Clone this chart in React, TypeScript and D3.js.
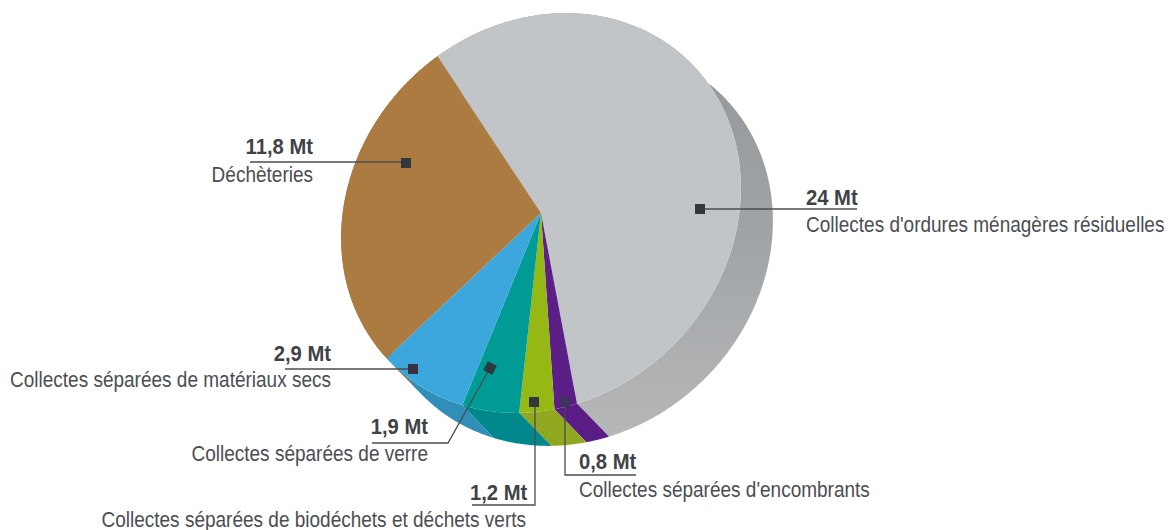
import React from "react";
import * as d3 from "d3";

const W = 1171;
const H = 530;

const categories = [
  "Collectes d'ordures ménagères résiduelles",
  "Collectes séparées d'encombrants",
  "Collectes séparées de biodéchets et déchets verts",
  "Collectes séparées de verre",
  "Collectes séparées de matériaux secs",
  "Déchèteries",
];
const values = [24, 0.8, 1.2, 1.9, 2.9, 11.8];
const valueLabels = ["24 Mt", "0,8 Mt", "1,2 Mt", "1,9 Mt", "2,9 Mt", "11,8 Mt"];
const topColors = ["#c2c5c7", "#5c1f88", "#96b814", "#009b94", "#3ba7dc", "#ab7b42"];
const sideColors = ["url(#sideGray)", "#5a1d86", "#8fa81f", "#00898c", "#2f8fb8", "#a87840"];

const cx = 541;
const cy = 213;
const semiMajor = 212; // along the NE-SW diagonal
const semiMinor = 187; // along the NW-SE diagonal
const shiftX = 32;
const shiftY = 33;
const start = (-33.5 * Math.PI) / 180;

const pie = d3.pie<number>().sort(null).startAngle(start).endAngle(start + 2 * Math.PI);
const arcs = pie(values);

// Polar radius of the tilted disc, angle measured clockwise from 12 o'clock
function discRadius(a: number) {
  const rel = a - Math.PI / 4;
  return 1 / Math.sqrt((Math.cos(rel) / semiMajor) ** 2 + (Math.sin(rel) / semiMinor) ** 2);
}
function angles(a0: number, a1: number) {
  const n = Math.max(2, Math.ceil((a1 - a0) / 0.01));
  return d3.range(n + 1).map((i) => a0 + ((a1 - a0) * i) / n);
}
const rimPoint = (a: number): [number, number] => {
  const r = discRadius(a);
  return [r * Math.sin(a), -r * Math.cos(a)];
};
const radial = d3.lineRadial<number>().angle((a) => a).radius(discRadius);

function slicePath(a0: number, a1: number) {
  return `M0,0L${(radial(angles(a0, a1)) as string).slice(1)}Z`;
}
const line = d3.line<[number, number]>();
function sidePath(a0: number, a1: number) {
  const front = angles(a0, a1).map(rimPoint);
  const back = front
    .slice()
    .reverse()
    .map((p): [number, number] => [p[0] + shiftX, p[1] + shiftY]);
  return (line(front.concat(back)) as string) + "Z";
}

const lineColor = "#4a4c50";
const textColor = "#4b4e52";
const boldColor = "#3f4246";
const font = "'Liberation Sans', Arial, sans-serif";
const labelScale = 0.884;
const valueScale = 0.92;

const leaders = [
  { pts: [[700, 209], [857, 209]], mark: [700, 209], rot: 0, fill: "#33363c", vx: 806, vy: 205, vAnchor: "start", lx: 806, ly: 232, lAnchor: "start" },
  { pts: [[565, 402], [565, 475], [636, 475]], mark: [565, 402], rot: 0, fill: "#3d3560", vx: 579, vy: 469, vAnchor: "start", lx: 579, ly: 497, lAnchor: "start" },
  { pts: [[535, 402], [535, 505], [472, 505]], mark: [534, 402], rot: 0, fill: "#33383c", vx: 470, vy: 500, vAnchor: "start", lx: 526, ly: 527, lAnchor: "end" },
  { pts: [[490, 368], [448, 443], [372, 443]], mark: [490, 368], rot: 28, fill: "#2f383c", vx: 428, vy: 434, vAnchor: "end", lx: 428, ly: 461, lAnchor: "end" },
  { pts: [[413, 369], [285, 369]], mark: [413, 369], rot: 0, fill: "#3a2f3c", vx: 331, vy: 361, vAnchor: "end", lx: 331, ly: 387, lAnchor: "end" },
  { pts: [[406, 162], [250, 162]], mark: [406, 163], rot: 0, fill: "#33363c", vx: 313, vy: 154, vAnchor: "end", lx: 313, ly: 182, lAnchor: "end" },
];

export default function App() {
  return (
    <svg
      width={W}
      height={H}
      viewBox={`0 0 ${W} ${H}`}
      style={{ position: "absolute", left: 0, top: 0, background: "#fff" }}
    >
      <defs>
        <linearGradient id="sideGray" x1="0" y1="0" x2="0" y2="1">
          <stop offset="0" stopColor="#939698" />
          <stop offset="0.5" stopColor="#a0a3a5" />
          <stop offset="1" stopColor="#b5b7b9" />
        </linearGradient>
      </defs>
      <g transform={`translate(${cx},${cy})`}>
        {arcs.map((d, i) => (
          <path key={i} d={sidePath(d.startAngle, d.endAngle)} fill={sideColors[i]} />
        ))}
        {arcs.map((d, i) => (
          <path key={i} d={slicePath(d.startAngle, d.endAngle)} fill={topColors[i]} />
        ))}
      </g>
      <g fontFamily={font}>
        {leaders.map((l, i) => (
          <g key={i}>
            <polyline
              points={l.pts.map((p) => p.join(",")).join(" ")}
              fill="none"
              stroke={lineColor}
              strokeWidth={1.3}
            />
            <rect
              x={-5}
              y={-5}
              width={10}
              height={10}
              fill={l.fill}
              transform={`translate(${l.mark[0]},${l.mark[1]}) rotate(${l.rot})`}
            />
            <text
              transform={`translate(${l.vx},${l.vy}) scale(${valueScale},1)`}
              textAnchor={l.vAnchor as any}
              fontSize={22}
              fontWeight={700}
              fill={boldColor}
            >
              {valueLabels[i]}
            </text>
            <text
              transform={`translate(${l.lx},${l.ly}) scale(${labelScale},1)`}
              textAnchor={l.lAnchor as any}
              fontSize={21.5}
              fill={textColor}
            >
              {categories[i]}
            </text>
          </g>
        ))}
      </g>
    </svg>
  );
}
